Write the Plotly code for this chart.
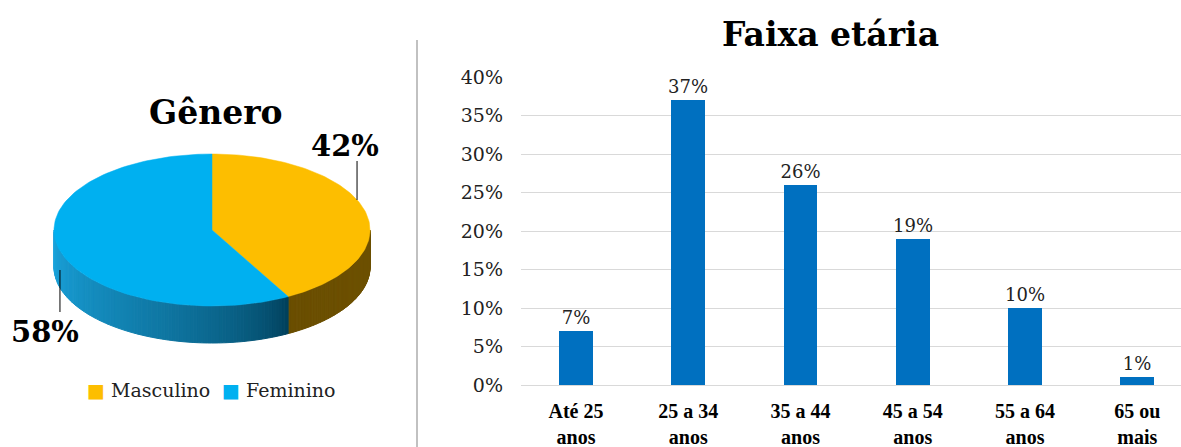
import math
import plotly.graph_objects as go

# ---- data ----
genero_labels = ["Masculino", "Feminino"]
genero_values = [42, 58]
genero_colors = ["#FDBE00", "#00B0F0"]

faixa_labels = ["Até 25<br>anos", "25 a 34<br>anos", "35 a 44<br>anos",
                "45 a 54<br>anos", "55 a 64<br>anos", "65 ou<br>mais"]
faixa_values = [7, 37, 26, 19, 10, 1]
y_ticks = [0, 5, 10, 15, 20, 25, 30, 35, 40]

W, H = 1181, 447
FONT = "DejaVu Serif"
FONT_B = "Liberation Serif"


def px(x):
    return x / W


def py(y):
    return 1 - y / H


def hex2rgb(h):
    h = h.lstrip("#")
    return tuple(int(h[i:i + 2], 16) for i in (0, 2, 4))


def mix(c1, c2, f):
    a, b = hex2rgb(c1), hex2rgb(c2)
    return "rgb(%d,%d,%d)" % tuple(round(a[i] + (b[i] - a[i]) * f) for i in range(3))


fig = go.Figure()

# ---- 3D-style pie built on a pixel-scaled axis pair (x2/y2) ----
cx, cy, rx, ry, depth = 212, 230, 158, 76, 37


def pt(t_deg, dy=0):
    t = math.radians(t_deg)
    return cx + rx * math.sin(t), cy - ry * math.cos(t) + dy


def arc(t1, t2, n, dy=0):
    pts = [pt(t1 + (t2 - t1) * i / n, dy) for i in range(n + 1)]
    return [p[0] for p in pts], [p[1] for p in pts]


total = sum(genero_values)
bounds = []
acc = 0
for v in genero_values:
    bounds.append((acc / total * 360, (acc + v) / total * 360))
    acc += v

side_shade = {"Masculino": ("#6E5100", "#6A4E00"), "Feminino": ("#003B55", "#1AA3DC")}

# side walls (front half only: 90..270 degrees), drawn as shaded strips
for name, (t1, t2) in zip(genero_labels, bounds):
    a, b = max(t1, 90), min(t2, 270)
    if a >= b:
        continue
    n = 90
    c_start, c_end = side_shade[name]
    for i in range(n):
        ta = a + (b - a) * i / n
        tb = a + (b - a) * (i + 1) / n
        xs, ys = arc(ta, tb, 2)
        xb, yb = arc(ta, tb, 2, depth)
        f = (i + 0.5) / n
        if name == "Feminino":
            f = f ** 0.6
        col = mix(c_start, c_end, f)
        fig.add_trace(go.Scatter(
            x=xs + xb[::-1] + [xs[0]], y=ys + yb[::-1] + [ys[0]],
            xaxis="x2", yaxis="y2", mode="lines", fill="toself",
            fillcolor=col, line=dict(color=col, width=1),
            hoverinfo="skip", showlegend=False))

# top faces
for name, (t1, t2), col in zip(genero_labels, bounds, genero_colors):
    xs, ys = arc(t1, t2, 120)
    fig.add_trace(go.Scatter(
        x=[cx] + xs + [cx], y=[cy] + ys + [cy],
        xaxis="x2", yaxis="y2", mode="lines", fill="toself",
        fillcolor=col, line=dict(color=col, width=0.5),
        name=name, hoverinfo="skip", showlegend=False))

# pie value labels with leader lines
label_pos = {"Masculino": (345, 146, 161, 200), "Feminino": (45, 332, 270, 312)}
for name, (t1, t2), v in zip(genero_labels, bounds, genero_values):
    lx, ly, l0, l1 = label_pos[name]
    mx, _ = pt((t1 + t2) / 2)
    mx = mx - 8 if name == "Masculino" else mx + 1
    fig.add_shape(type="line", xref="x2", yref="y2", x0=mx, x1=mx, y0=l0, y1=l1,
                  line=dict(color="#000000", width=1))
    fig.add_annotation(x=lx, y=ly, xref="x2", yref="y2", text="<b>%d%%</b>" % v,
                       xanchor="center", yanchor="middle", showarrow=False,
                       font=dict(family=FONT, size=29, color="#000"))

# ---- bar chart ----
fig.add_trace(go.Bar(
    x=list(range(len(faixa_values))), y=faixa_values, width=0.30,
    marker=dict(color="#0070C0", line=dict(width=0)),
    text=["%d%%" % v for v in faixa_values], textposition="outside",
    constraintext="none",
    textfont=dict(family=FONT, size=18, color="#222"), cliponaxis=False,
    hoverinfo="skip", showlegend=False))

fig.update_layout(
    width=W, height=H, autosize=False,
    margin=dict(l=0, r=0, t=0, b=0, autoexpand=False),
    paper_bgcolor="white", plot_bgcolor="white",
    bargap=0, showlegend=False,
    xaxis=dict(domain=[px(521), 1], range=[-0.49, 5.39],
               tickvals=list(range(len(faixa_labels))), ticktext=faixa_labels,
               tickfont=dict(family=FONT_B, size=20, color="#000", weight="bold"),
               showgrid=False, zeroline=False, showline=False, ticks="",
               ticklabelstandoff=12, automargin=False, fixedrange=True),
    yaxis=dict(domain=[py(385), py(77)], range=[0, 40],
               tickvals=y_ticks, ticktext=["%d%%" % t for t in y_ticks],
               tickfont=dict(family=FONT, size=19, color="#222"),
               showgrid=True, gridcolor="#D9D9D9", gridwidth=1,
               zeroline=True, zerolinecolor="#D9D9D9", zerolinewidth=1,
               showline=False, ticks="", ticklabelstandoff=17,
               automargin=False, fixedrange=True),
    xaxis2=dict(domain=[0, px(416)], range=[0, 416], visible=False,
                anchor="y2", automargin=False, fixedrange=True),
    yaxis2=dict(domain=[0, 1], range=[H, 0], visible=False,
                anchor="x2", automargin=False, fixedrange=True),
)

# separator between the two panels
fig.add_shape(type="line", xref="paper", yref="paper",
              x0=px(417), x1=px(417), y0=py(40), y1=0,
              line=dict(color="#ADADAD", width=1.5))

# titles
fig.add_annotation(x=px(830), y=py(35), xref="paper", yref="paper",
                   xanchor="center", yanchor="middle",
                   text="<b>Faixa etária</b>", showarrow=False,
                   font=dict(family=FONT, size=33, color="#000"))
fig.add_annotation(x=px(216), y=py(112), xref="paper", yref="paper",
                   xanchor="center", yanchor="middle",
                   text="<b>Gênero</b>", showarrow=False,
                   font=dict(family=FONT, size=33, color="#000"))

# legend for the pie
legend_x = [85, 220]
for name, col, lx in zip(genero_labels, genero_colors, legend_x):
    fig.add_annotation(x=px(lx), y=py(390), xref="paper", yref="paper",
                       xanchor="left", yanchor="middle", showarrow=False,
                       text='<span style="color:%s">■</span> %s' % (col, name),
                       font=dict(family=FONT, size=19, color="#222"))

fig.write_html("out.html")
